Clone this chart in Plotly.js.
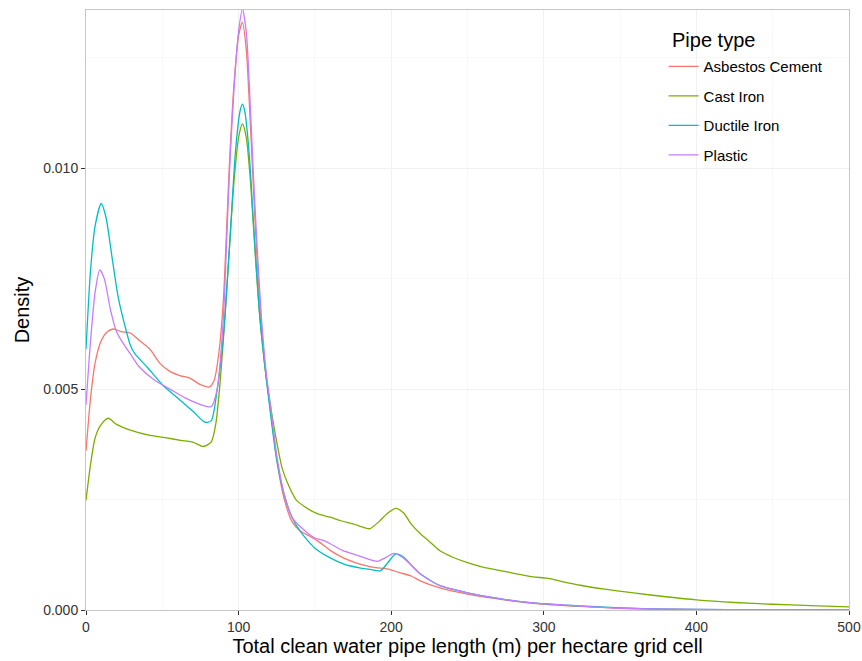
<!DOCTYPE html>
<html>
<head>
<meta charset="utf-8">
<script src="https://cdn.plot.ly/plotly-3.0.1.min.js"></script>
<style>
  html, body { margin: 0; padding: 0; background: #ffffff; }
  #chart { width: 862px; height: 661px; }
</style>
</head>
<body>
<div id="chart"></div>
<script>
// Kernel density of clean water pipe length per hectare grid cell, by pipe type

const seriesNames = ["Asbestos Cement", "Cast Iron", "Ductile Iron", "Plastic"];
const seriesColors = ["#F8766D", "#7CAE00", "#00BFC4", "#C77CFF"];
const legendTitle = "Pipe type";

// Asbestos Cement
const acX = [0, 3, 6, 10, 14, 18, 23, 29, 35, 42, 48, 55, 62, 68, 75, 81, 84, 87, 90, 92, 94, 97, 100, 102.5, 105, 107, 109.5, 112, 115, 118, 121, 125, 130, 135, 140, 145, 151.6, 160, 168.6, 176, 184, 190, 197.5, 205, 213, 219, 232, 250, 272, 293, 324, 350, 400, 450, 500];
const acY = [0.0036, 0.0048, 0.0056, 0.0061, 0.0063, 0.00636, 0.0063, 0.00627, 0.0061, 0.0059, 0.0056, 0.0054, 0.0053, 0.00525, 0.0051, 0.00505, 0.0052, 0.0058, 0.0070, 0.0085, 0.0101, 0.0119, 0.0130, 0.0133, 0.0127, 0.0115, 0.0097, 0.0080, 0.0064, 0.0053, 0.0045, 0.0034, 0.0025, 0.0020, 0.0018, 0.0017, 0.00157, 0.00135, 0.00118, 0.00108, 0.0010, 0.00096, 0.00093, 0.00085, 0.00077, 0.00066, 0.0005, 0.00036, 0.00024, 0.00015, 0.00008, 0.00004, 0.00001, 0.000003, 0.0];

// Cast Iron
const ciX = [0, 3, 6, 10, 14.6, 20, 29, 42, 52, 62, 70, 77, 82, 85, 88, 91, 94, 97, 100, 102.5, 105, 108, 111, 114, 118, 121, 125, 128.6, 133, 138, 145, 151.5, 160, 167, 175, 182, 186, 192, 198, 203, 208, 213, 219, 225, 232, 240, 250, 260, 271.6, 282, 293, 302, 310, 324, 340, 360, 380, 400, 425, 450, 475, 500];
const ciY = [0.00248, 0.0033, 0.0039, 0.0042, 0.00434, 0.0042, 0.00407, 0.00395, 0.0039, 0.00384, 0.0038, 0.0037, 0.0038, 0.0042, 0.0052, 0.0066, 0.0082, 0.0097, 0.0107, 0.0110, 0.0107, 0.0096, 0.0080, 0.0066, 0.0053, 0.0046, 0.0038, 0.0032, 0.0028, 0.00248, 0.0023, 0.00218, 0.0021, 0.00202, 0.00195, 0.00187, 0.00184, 0.0020, 0.0022, 0.0023, 0.0022, 0.00195, 0.00173, 0.00155, 0.00134, 0.0012, 0.00107, 0.00097, 0.00089, 0.00082, 0.00075, 0.00072, 0.00066, 0.00056, 0.00047, 0.00038, 0.0003, 0.00023, 0.00017, 0.00013, 0.0001, 0.00007];

// Ductile Iron
const diX = [0, 3, 6, 10, 13, 17, 21, 25, 29, 32, 40, 50, 60, 70, 78, 82, 86, 90, 94, 98, 101, 102.5, 104, 107, 110, 114, 120, 125, 130, 135, 140, 145, 150, 160, 169, 180, 186, 193, 198, 203, 208, 213, 219, 232, 250, 272, 293, 324, 350, 380, 420, 500];
const diY = [0.0059, 0.0077, 0.0087, 0.0092, 0.0089, 0.0080, 0.0071, 0.0065, 0.0060, 0.0058, 0.0055, 0.0051, 0.0048, 0.0045, 0.00425, 0.00428, 0.0050, 0.0062, 0.0082, 0.0104, 0.0113, 0.01145, 0.0113, 0.0103, 0.0086, 0.0066, 0.0047, 0.0034, 0.0026, 0.0021, 0.0018, 0.00158, 0.0014, 0.00118, 0.00104, 0.00095, 0.00092, 0.00089, 0.00108, 0.00127, 0.0012, 0.00102, 0.00082, 0.00055, 0.00039, 0.00025, 0.00016, 0.00009, 0.00005, 0.00002, 0.00001, 0.0];

// Plastic
const plX = [0, 3, 6, 9, 12, 16, 20, 25, 29, 35, 45, 55, 65, 75, 82, 86, 90, 92, 94, 97, 100, 102.5, 105, 107, 109.5, 112, 115, 118, 121, 125, 130, 135, 140, 145, 150, 155, 160, 168, 175, 185, 191, 196, 202, 207, 213, 219, 232, 250, 272, 293, 324, 350, 380, 420, 500];
const plY = [0.00464, 0.0061, 0.0072, 0.0077, 0.0075, 0.0068, 0.0063, 0.0060, 0.0058, 0.0055, 0.0052, 0.0050, 0.0048, 0.00465, 0.0046, 0.0050, 0.0066, 0.0082, 0.0099, 0.0118, 0.0131, 0.0136, 0.0131, 0.0119, 0.0100, 0.0083, 0.0066, 0.0054, 0.0046, 0.0035, 0.0026, 0.0021, 0.0019, 0.00175, 0.00163, 0.00158, 0.0015, 0.00135, 0.00127, 0.00115, 0.0011, 0.00118, 0.00128, 0.0012, 0.00102, 0.00082, 0.00055, 0.00039, 0.00025, 0.00016, 0.00009, 0.00004, 0.00002, 0.00001, 0.0];

const xTicks = [0, 100, 200, 300, 400, 500];
const yTicks = [0, 0.005, 0.010];

const xs = [acX, ciX, diX, plX];
const ys = [acY, ciY, diY, plY];

const traces = seriesNames.map((name, i) => ({
  type: "scatter",
  mode: "lines",
  name: name,
  legendgroup: name,
  x: xs[i],
  y: ys[i],
  line: { color: seriesColors[i], width: 1.3, shape: "spline", smoothing: 0.7 },
  hoverinfo: "x+y+name"
}));

const axisFont = { family: "Liberation Sans, Arial, sans-serif", size: 14, color: "#333333" };

const layout = {
  width: 862,
  height: 661,
  margin: { l: 86, r: 13, t: 10, b: 51 },
  paper_bgcolor: "#ffffff",
  plot_bgcolor: "#ffffff",
  font: { family: "Liberation Sans, Arial, sans-serif", color: "#000000" },
  showlegend: true,
  legend: {
    x: 0.757,
    y: 0.933,
    xanchor: "left",
    yanchor: "top",
    bgcolor: "rgba(255,255,255,0)",
    borderwidth: 0,
    traceorder: "grouped",
    tracegroupgap: 7,
    itemwidth: 30,
    font: { size: 15, color: "#000000" }
  },
  // legend heading
  annotations: [{
    text: legendTitle,
    xref: "paper", yref: "paper",
    x: 0.765, y: 0.95,
    xanchor: "left", yanchor: "middle",
    showarrow: false,
    font: { size: 20, color: "#000000" }
  }],
  xaxis: {
    range: [0, 500],
    tickvals: xTicks,
    ticktext: xTicks.map(String),
    ticks: "outside",
    ticklen: 4,
    tickcolor: "#333333",
    tickfont: axisFont,
    showline: true,
    linecolor: "#c6c6c6",
    linewidth: 1,
    mirror: true,
    showgrid: true,
    gridcolor: "#f1f1f1",
    minor: { dtick: 50, showgrid: true, gridcolor: "#f8f8f8" },
    zeroline: false,
    title: {
      text: "Total clean water pipe length (m) per hectare grid cell",
      font: { size: 20, color: "#000000" },
      standoff: 2
    }
  },
  yaxis: {
    range: [0, 0.01358],
    tickvals: yTicks,
    ticktext: yTicks.map(v => v.toFixed(3)),
    ticks: "outside",
    ticklen: 4,
    tickcolor: "#333333",
    tickfont: axisFont,
    showline: true,
    linecolor: "#c6c6c6",
    linewidth: 1,
    mirror: true,
    showgrid: true,
    gridcolor: "#f1f1f1",
    minor: { dtick: 0.0025, showgrid: true, gridcolor: "#f8f8f8" },
    zeroline: false,
    title: {
      text: "Density",
      font: { size: 20, color: "#000000" },
      standoff: 8
    }
  }
};

Plotly.newPlot("chart", traces, layout, { displayModeBar: false, responsive: false });
</script>
</body>
</html>
